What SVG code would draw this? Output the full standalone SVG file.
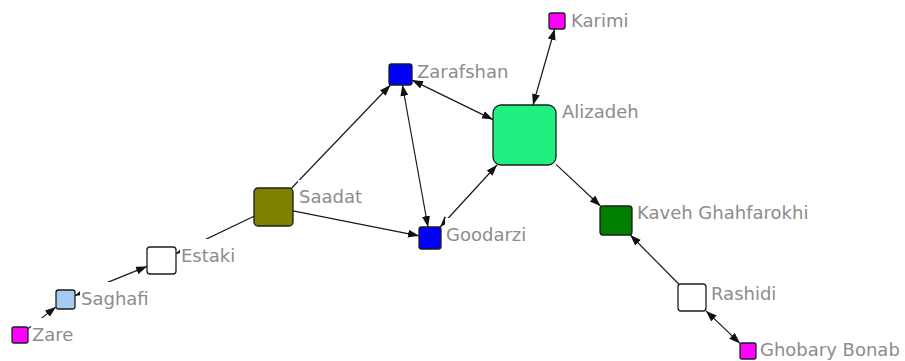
<svg xmlns="http://www.w3.org/2000/svg" width="905" height="361" viewBox="0 0 905 361">
<style>
.edge{stroke:#1a1a1a;stroke-width:1.2;fill:none}
.uni{marker-end:url(#ah)}
.bi{marker-start:url(#ah);marker-end:url(#ah)}
.node{stroke:#1c1c1c;stroke-width:1.3}
.lbg{fill:#ffffff;stroke:none}
.lbl{font-family:"DejaVu Sans","Liberation Sans",sans-serif;font-size:18px;fill:#8c8c8c}
</style>
<defs>
<marker id="ah" markerUnits="userSpaceOnUse" markerWidth="11" markerHeight="9" refX="11" refY="4" orient="auto-start-reverse">
<path d="M0,0 L11,4 L0,8 z" fill="#111"/>
</marker>
</defs>
<rect width="905" height="361" fill="#ffffff"/>
<g id="connectors">
<line class="edge uni" x1="28" y1="328.8" x2="56" y2="306.9"/>
<line class="edge bi" x1="75" y1="295.6" x2="147" y2="266.4"/>
<line class="edge uni" x1="254" y1="216.3" x2="176" y2="253.6"/>
<line class="edge uni" x1="291.7" y1="188" x2="390.4" y2="85"/>
<line class="edge uni" x1="293" y1="210.9" x2="419" y2="235.8"/>
<line class="edge bi" x1="402.4" y1="85" x2="428" y2="227"/>
<line class="edge bi" x1="412" y1="80.1" x2="493" y2="119.6"/>
<line class="edge bi" x1="440.1" y1="227" x2="497" y2="165"/>
<line class="edge bi" x1="554.7" y1="29" x2="533" y2="105"/>
<line class="edge uni" x1="556" y1="164.4" x2="600.5" y2="206"/>
<line class="edge uni" x1="678.7" y1="284" x2="630.3" y2="235"/>
<line class="edge bi" x1="706" y1="310.9" x2="740" y2="343.4"/>
</g>
<g id="zare">
<rect class="lbg" x="31" y="318" width="45" height="25"/>
<rect class="node" x="12" y="327" width="16" height="16" rx="2" fill="#ff00ff"/>
<text class="lbl" x="32" y="341">Zare</text>
</g>
<g id="saghafi">
<rect class="lbg" x="80" y="282" width="71" height="25"/>
<rect class="node" x="56" y="290" width="19" height="19" rx="2.5" fill="#a6caf0"/>
<text class="lbl" x="81" y="305">Saghafi</text>
</g>
<g id="estaki">
<rect class="lbg" x="180" y="239" width="58" height="25"/>
<rect class="node" x="147" y="247" width="29" height="27" rx="3" fill="#ffffff"/>
<text class="lbl" x="181" y="262">Estaki</text>
</g>
<g id="saadat">
<rect class="lbg" x="298" y="180" width="67" height="25"/>
<rect class="node" x="254" y="188" width="39" height="38" rx="4" fill="#808000"/>
<text class="lbl" x="299" y="203">Saadat</text>
</g>
<g id="zarafshan">
<rect class="lbg" x="416" y="55" width="95" height="25"/>
<rect class="node" x="389" y="64" width="23" height="21" rx="2.5" fill="#0000ff"/>
<text class="lbl" x="417" y="78">Zarafshan</text>
</g>
<g id="goodarzi">
<rect class="lbg" x="445" y="218" width="84" height="25"/>
<rect class="node" x="419" y="227" width="22" height="22" rx="2.5" fill="#0000ff"/>
<text class="lbl" x="446" y="241">Goodarzi</text>
</g>
<g id="alizadeh">
<rect class="lbg" x="561" y="95" width="80" height="25"/>
<rect class="node" x="493" y="105" width="63" height="60" rx="8" fill="#20f080"/>
<text class="lbl" x="562" y="118">Alizadeh</text>
</g>
<g id="karimi">
<rect class="lbg" x="570" y="4" width="61" height="25"/>
<rect class="node" x="549" y="13" width="16" height="16" rx="2" fill="#ff00ff"/>
<text class="lbl" x="571" y="27">Karimi</text>
</g>
<g id="kaveh">
<rect class="lbg" x="636" y="196" width="176" height="25"/>
<rect class="node" x="600" y="206" width="32" height="29" rx="3" fill="#007f00"/>
<text class="lbl" x="637" y="219">Kaveh Ghahfarokhi</text>
</g>
<g id="rashidi">
<rect class="lbg" x="710" y="277" width="69" height="25"/>
<rect class="node" x="678" y="284" width="28" height="27" rx="3" fill="#ffffff"/>
<text class="lbl" x="711" y="300">Rashidi</text>
</g>
<g id="ghobary">
<rect class="lbg" x="759" y="333" width="144" height="25"/>
<rect class="node" x="740" y="343" width="16" height="16" rx="2" fill="#ff00ff"/>
<text class="lbl" x="760" y="356">Ghobary Bonab</text>
</g>
</svg>
